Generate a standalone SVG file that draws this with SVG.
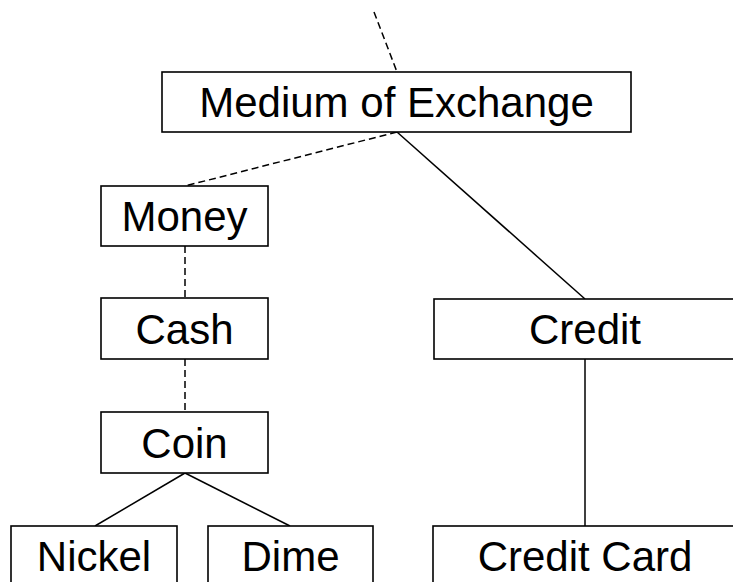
<svg xmlns="http://www.w3.org/2000/svg" width="733" height="582" viewBox="0 0 733 582">
<style>
.box{fill:#fff;stroke:#000;stroke-width:1.6}
.lbl{font-family:"Liberation Sans",Arial,sans-serif;font-size:42px;fill:#000;text-anchor:middle}
.solid{stroke:#000;stroke-width:1.5;fill:none}
.dash{stroke:#000;stroke-width:1.5;fill:none;stroke-dasharray:7,4}
</style>
<rect width="733" height="582" fill="#fff"/>
<g id="connectors">
<line class="dash" x1="374" y1="12" x2="397" y2="72"/>
<line class="dash" x1="397" y1="132" x2="185" y2="186"/>
<line class="solid" x1="397" y1="132" x2="585" y2="299"/>
<line class="dash" x1="185" y1="246" x2="185" y2="298"/>
<line class="dash" x1="185" y1="359" x2="185" y2="412"/>
<line class="solid" x1="185" y1="473" x2="95" y2="526"/>
<line class="solid" x1="185" y1="473" x2="290" y2="526"/>
<line class="solid" x1="585" y1="359" x2="585" y2="526"/>
</g>
<g id="medium">
<rect class="box" x="162" y="72" width="469" height="60"/>
<text class="lbl" x="396.5" y="117">Medium of Exchange</text>
</g>
<g id="money">
<rect class="box" x="101" y="186" width="167" height="60"/>
<text class="lbl" x="184.5" y="231">Money</text>
</g>
<g id="cash">
<rect class="box" x="101" y="298" width="167" height="61"/>
<text class="lbl" x="184.5" y="344">Cash</text>
</g>
<g id="coin">
<rect class="box" x="101" y="412" width="167" height="61"/>
<text class="lbl" x="184.5" y="458">Coin</text>
</g>
<g id="credit">
<rect class="box" x="434" y="299" width="302" height="60"/>
<text class="lbl" x="585" y="344">Credit</text>
</g>
<g id="nickel">
<rect class="box" x="11" y="526" width="166" height="60"/>
<text class="lbl" x="94" y="571">Nickel</text>
</g>
<g id="dime">
<rect class="box" x="208" y="526" width="165" height="60"/>
<text class="lbl" x="290.5" y="571">Dime</text>
</g>
<g id="creditcard">
<rect class="box" x="433" y="526" width="304" height="60"/>
<text class="lbl" x="585" y="571">Credit Card</text>
</g>
</svg>
